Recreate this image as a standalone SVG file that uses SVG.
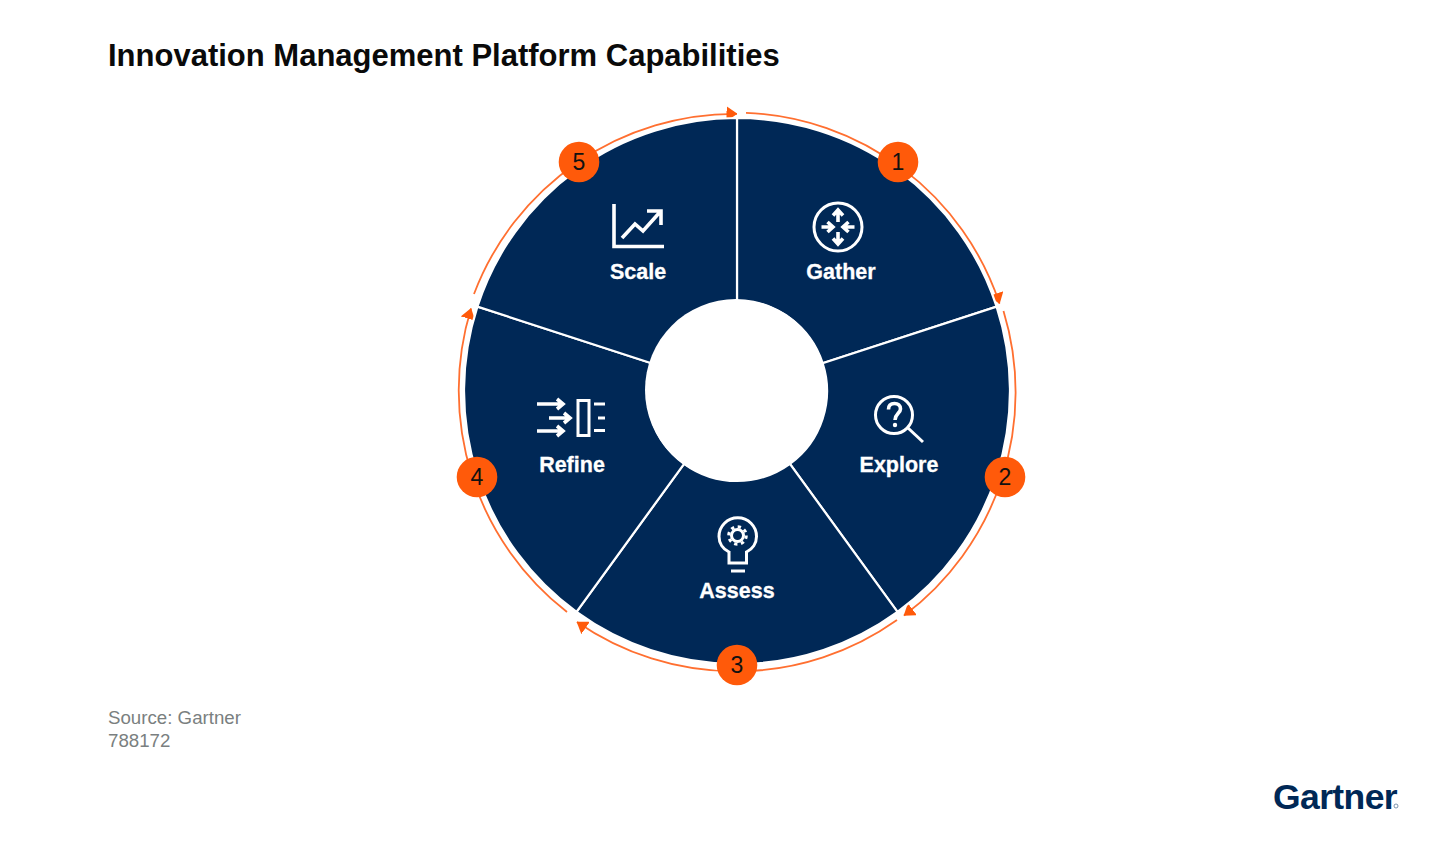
<svg xmlns="http://www.w3.org/2000/svg" width="1432" height="856" viewBox="0 0 1432 856">
<style>
text{font-family:"Liberation Sans",Arial,sans-serif}
.title{font-size:31px;font-weight:700;fill:#0a0a0a}
.src{font-size:18.700px;fill:#7a7f80}
.sector{fill:#002856;stroke:#fff;stroke-width:2.200}
.label{font-size:21.500px;font-weight:700;fill:#fff;text-anchor:middle;stroke:#fff;stroke-width:.3px}
.icon{fill:none;stroke:#fff;stroke-width:3}
.thick{stroke-width:3.600}
.dot{fill:#fff}
.badge{fill:#ff5a0a}
.num{font-size:23px;fill:#111;text-anchor:middle}
.arc{fill:none;stroke:#ff6f30;stroke-width:1.800;marker-end:url(#tip)}
.logo{font-size:35.500px;font-weight:700;fill:#002856;letter-spacing:-.6px}
</style>
<defs>
<marker id="tip" markerUnits="userSpaceOnUse" markerWidth="11" markerHeight="15" refX="10.500" refY="7.500" orient="auto" viewBox="0 0 11 15"><path d="M0 0L11 7.500L0 15z" fill="#ff5a0a"/></marker>
</defs>
<rect width="1432" height="856" fill="#fff"/>
<text class="title" x="108" y="66">Innovation Management Platform Capabilities</text>
<g id="connectors">
<path class="arc" d="M746 112.800A279 279 0 0 1 999.500 303.500"/>
<path class="arc" d="M1003.500 311A279 279 0 0 1 904 615.500"/>
<path class="arc" d="M897 620A279 279 0 0 1 577 622"/>
<path class="arc" d="M567 612A280.500 280.500 0 0 1 471 308.500"/>
<path class="arc" d="M474 294A279 279 0 0 1 737 113.800"/>
</g>
<g id="gather">
<path class="sector" d="M737 118A273 273 0 0 1 996.600 306.600L822.600 363.200A90 90 0 0 0 737 301Z"/>
<circle class="icon" cx="838" cy="227" r="24"/>
<path class="icon thick" d="M838 222V211M833 215.500L838 210L843 215.500M838 232V243M833 238.500L838 244L843 238.500M821.500 227H832M827.500 222L833 227L827.500 232M854.500 227H844M848.500 222L843 227L848.500 232"/>
<text class="label" x="841" y="279">Gather</text>
<circle class="badge" cx="898" cy="162" r="20.300"/>
<text class="num" x="898" y="170">1</text>
</g>
<g id="explore">
<path class="sector" d="M996.600 306.600A273 273 0 0 1 897.500 611.900L789.900 463.800A90 90 0 0 0 822.600 363.200Z"/>
<circle class="icon" cx="894" cy="415" r="18.500"/>
<path class="icon" d="M908 428L923 442"/>
<path class="icon thick" d="M888.500 409.500C888.500 405.500 891 403.500 894.500 403.500C898 403.500 900.500 405.500 900.500 409C900.500 413 895 414 895 420"/>
<circle class="dot" cx="895" cy="425" r="2.200"/>
<text class="label" x="899" y="472">Explore</text>
<circle class="badge" cx="1005" cy="477" r="20.300"/>
<text class="num" x="1005" y="485">2</text>
</g>
<g id="assess">
<path class="sector" d="M897.500 611.900A273 273 0 0 1 576.500 611.900L684.100 463.800A90 90 0 0 0 789.900 463.800Z"/>
<path class="icon" d="M729 552C723 549 719 543 719 536.500A18.700 18.700 0 0 1 756.500 536.500C756.500 543 752.500 549 746.500 552V563H729ZM731 571H745"/>
<circle class="icon" cx="737.500" cy="535.500" r="6"/>
<circle cx="737.500" cy="535.500" r="8.800" fill="none" stroke="#fff" stroke-width="3" stroke-dasharray="3.300 3.600"/>
<text class="label" x="737" y="598">Assess</text>
<circle class="badge" cx="737" cy="665" r="20.300"/>
<text class="num" x="737" y="673">3</text>
</g>
<g id="refine">
<path class="sector" d="M576.500 611.900A273 273 0 0 1 477.400 306.600L651.400 363.200A90 90 0 0 0 684.100 463.800Z"/>
<path class="icon thick" d="M537 404H563M557 399L563 404L557 409M549 418H570M564 413L570 418L564 423M537 431H563M557 426L563 431L557 436"/>
<rect class="icon" x="578" y="400.500" width="11" height="35"/>
<path class="icon" d="M594 404H605M598 418H605M594 430.500H605"/>
<text class="label" x="572" y="472">Refine</text>
<circle class="badge" cx="477" cy="477" r="20.300"/>
<text class="num" x="477" y="485">4</text>
</g>
<g id="scale">
<path class="sector" d="M477.400 306.600A273 273 0 0 1 737 118V301A90 90 0 0 0 651.400 363.200Z"/>
<path class="icon thick" d="M614 204V246.500H664M622 238L635 224L643 231L660 212M647 211H661V225"/>
<text class="label" x="638" y="279">Scale</text>
<circle class="badge" cx="579" cy="162" r="20.300"/>
<text class="num" x="579" y="170">5</text>
</g>
<circle cx="736" cy="390" r="91" fill="#fff"/>
<text class="src" x="108" y="724">Source: Gartner</text>
<text class="src" x="108" y="747">788172</text>
<g id="gartner-logo">
<text class="logo" x="1273" y="809">Gartner</text>
<circle cx="1396" cy="806" r="2" fill="none" stroke="#5d7a99" stroke-width=".8"/>
</g>
</svg>
